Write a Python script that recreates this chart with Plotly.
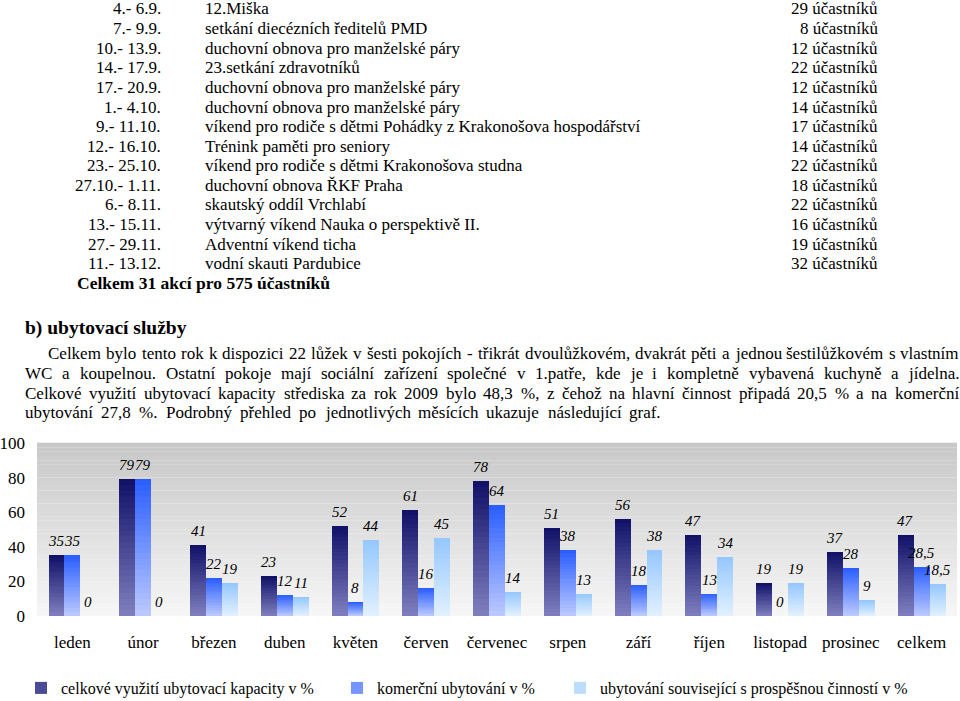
import unicodedata
import plotly.graph_objects as go

# ---------------- data ----------------
dates = ["4.- 6.9.", "7.- 9.9.", "10.- 13.9.", "14.- 17.9.", "17.- 20.9.", "1.- 4.10.",
         "9.- 11.10.", "12.- 16.10.", "23.- 25.10.", "27.10.- 1.11.", "6.- 8.11.",
         "13.- 15.11.", "27.- 29.11.", "11.- 13.12."]
events = ["12.Miška", "setkání diecézních ředitelů PMD", "duchovní obnova pro manželské páry",
          "23.setkání zdravotníků", "duchovní obnova pro manželské páry",
          "duchovní obnova pro manželské páry",
          "víkend pro rodiče s dětmi Pohádky z Krakonošova hospodářství",
          "Trénink paměti pro seniory", "víkend pro rodiče s dětmi Krakonošova studna",
          "duchovní obnova ŘKF Praha", "skautský oddíl Vrchlabí",
          "výtvarný víkend Nauka o perspektivě II.", "Adventní víkend ticha",
          "vodní skauti Pardubice"]
participants = [29, 8, 12, 22, 12, 14, 17, 14, 22, 18, 22, 16, 19, 32]
total_line = "Celkem 31 akcí pro 575 účastníků"

heading = "b) ubytovací služby"
paragraph_lines = [
    "Celkem bylo tento rok k dispozici 22 lůžek v šesti pokojích - třikrát dvoulůžkovém, dvakrát pěti a jednou šestilůžkovém s vlastním",
    "WC a koupelnou. Ostatní pokoje mají sociální zařízení společné v 1.patře, kde je i kompletně vybavená kuchyně a jídelna.",
    "Celkové využití ubytovací kapacity střediska za rok 2009 bylo 48,3 %, z čehož na hlavní činnost připadá 20,5 % a  na komerční",
    "ubytování 27,8 %. Podrobný přehled po jednotlivých měsících ukazuje následující graf.",
]

months = ["leden", "únor", "březen", "duben", "květen", "červen", "červenec", "srpen",
          "září", "říjen", "listopad", "prosinec", "celkem"]
celkove = [35, 79, 41, 23, 52, 61, 78, 51, 56, 47, 19, 37, 47]
komercni = [35, 79, 22, 12, 8, 16, 64, 38, 18, 13, 0, 28, 28.5]
prospesna = [0, 0, 19, 11, 44, 45, 14, 13, 38, 34, 19, 9, 18.5]
series_names = ["celkové využití ubytovací kapacity v %", "komerční ubytování v %",
                "ubytování související s prospěšnou činností v %"]
y_ticks = [0, 20, 40, 60, 80, 100]

# ---------------- styling ----------------
FONT = "Liberation Serif"
W, H = 960, 701
ML, MR, MT, MB = 37, 3, 443, 85
PW, PH = W - ML - MR, H - MT - MB


def px2x(px):
    return (px - ML) / PW


def py2y(py):
    return (H - MB - py) / PH


def lerp(c1, c2, t):
    return "rgb(%d,%d,%d)" % tuple(round(a + (b - a) * t) for a, b in zip(c1, c2))


# approximate Times-compatible advance widths (1/1000 em) for justification
_TW = {" ": 250, "%": 833, ",": 250, "-": 333, ".": 250, "(": 333, ")": 333, ":": 278}
_TW.update({d: 500 for d in "0123456789"})
_TW.update(dict(zip("ABCDEFGHIJKLMNOPQRSTUVWXYZ",
                    [722, 667, 667, 722, 611, 556, 722, 722, 333, 389, 722, 611, 889,
                     722, 722, 556, 722, 667, 556, 611, 722, 722, 944, 722, 722, 611])))
_TW.update(dict(zip("abcdefghijklmnopqrstuvwxyz",
                    [444, 500, 444, 500, 444, 333, 500, 500, 278, 278, 500, 278, 778,
                     500, 500, 500, 500, 333, 389, 278, 500, 500, 722, 500, 500, 444])))


def text_width(s, size):
    tot = 0
    for ch in s:
        base = unicodedata.normalize("NFD", ch)[0]
        tot += _TW.get(base, 500)
    return tot * size / 1000.0


grad = [((18, 18, 105), (125, 125, 190)),
        ((45, 95, 255), (185, 200, 255)),
        ((150, 200, 255), (225, 240, 255))]

fig = go.Figure()
NSEG = 24
BW = 0.225
offsets = [-1.5 * BW, -0.5 * BW, 0.5 * BW]
xs = list(range(len(months)))
all_series = [celkove, komercni, prospesna]

for j, vals in enumerate(all_series):
    top, bot = grad[j]
    for k in range(NSEG):
        frac = (NSEG - k) / NSEG
        show = (k == NSEG // 2)
        fig.add_trace(go.Bar(
            x=xs, y=[v * frac for v in vals],
            offset=offsets[j], width=BW,
            marker=dict(color=lerp(top, bot, k / (NSEG - 1)), line=dict(width=0)),
            name=series_names[j], showlegend=show,
            legend=["legend", "legend2", "legend3"][j],
            hoverinfo="skip",
        ))

annotations = []
# value labels
for j, vals in enumerate(all_series):
    for i, v in enumerate(vals):
        txt = (str(int(v)) if float(v).is_integer() else str(v).replace(".", ","))
        annotations.append(dict(
            x=i + offsets[j] + BW / 2, y=v, xref="x", yref="y", text=txt,
            showarrow=False, yanchor="bottom", xanchor="center", yshift=4,
            font=dict(family=FONT, size=15, color="black", style="italic"),
        ))

# top listing
for k in range(len(dates)):
    yc = 9 + 19.6 * k
    annotations.append(dict(x=px2x(163), y=py2y(yc), xref="paper", yref="paper",
                            text=dates[k], showarrow=False, xanchor="right", yanchor="middle",
                            font=dict(family=FONT, size=17, color="black")))
    annotations.append(dict(x=px2x(203), y=py2y(yc), xref="paper", yref="paper",
                            text=events[k], showarrow=False, xanchor="left", yanchor="middle",
                            font=dict(family=FONT, size=17, color="black")))
    annotations.append(dict(x=px2x(880), y=py2y(yc), xref="paper", yref="paper",
                            text="%d účastníků" % participants[k], showarrow=False,
                            xanchor="right", yanchor="middle",
                            font=dict(family=FONT, size=17, color="black")))
annotations.append(dict(x=px2x(75), y=py2y(283), xref="paper", yref="paper",
                        text="<b>%s</b>" % total_line, showarrow=False, xanchor="left",
                        yanchor="middle", font=dict(family=FONT, size=17.5, color="black")))
annotations.append(dict(x=px2x(23), y=py2y(328), xref="paper", yref="paper",
                        text="<b>%s</b>" % heading, showarrow=False, xanchor="left",
                        yanchor="middle", font=dict(family=FONT, size=19.5, color="black")))

# justified paragraph (word by word)
PSIZE = 17
para_x0 = [47, 24, 24, 24]
para_x1 = [958, 958, 958, 660]
para_y = [353, 373, 393, 412]
for line, x0, x1, ly in zip(paragraph_lines, para_x0, para_x1, para_y):
    words = line.split()
    widths = [text_width(w, PSIZE) for w in words]
    gap = (x1 - x0 - sum(widths)) / max(len(words) - 1, 1)
    cx = x0
    for w, wd in zip(words, widths):
        annotations.append(dict(x=px2x(cx - 1), y=py2y(ly), xref="paper", yref="paper",
                                text=w, showarrow=False, xanchor="left", yanchor="middle",
                                font=dict(family=FONT, size=PSIZE, color="black")))
        cx += wd + gap

# background gradient bands inside the plot area
shapes = []
NB = 40
for b in range(NB):
    t = b / (NB - 1)
    shapes.append(dict(type="rect", xref="paper", yref="paper",
                       x0=0, x1=1, y0=1 - (b + 1) / NB, y1=1 - b / NB + 0.001,
                       fillcolor=lerp((200, 200, 200), (246, 246, 246), t),
                       line=dict(width=0), layer="below"))

legend_common = dict(orientation="h", xref="container", yref="container",
                     xanchor="left", yanchor="middle", y=1 - 688 / H,
                     bgcolor="rgba(0,0,0,0)", itemwidth=30,
                     font=dict(family=FONT, size=16, color="black"))

fig.update_layout(
    width=W, height=H,
    margin=dict(l=ML, r=MR, t=MT, b=MB, autoexpand=False),
    paper_bgcolor="white", plot_bgcolor="rgba(0,0,0,0)",
    barmode="overlay", bargap=0,
    showlegend=True,
    legend=dict(x=21 / W, **legend_common),
    legend2=dict(x=337 / W, **legend_common),
    legend3=dict(x=560 / W, **legend_common),
    xaxis=dict(range=[-0.5, len(months) - 0.5], tickvals=xs, ticktext=months,
               showgrid=False, zeroline=False, showline=False, ticks="",
               ticklabelstandoff=14,
               tickfont=dict(family=FONT, size=17, color="black")),
    yaxis=dict(range=[0, 100], tickvals=y_ticks, showgrid=False, zeroline=False,
               showline=False, ticks="", ticklabelstandoff=11,
               tickfont=dict(family=FONT, size=17, color="black")),
    annotations=annotations, shapes=shapes,
)

fig.write_html("out.html", config={"displayModeBar": False},
               post_script="document.body.style.margin='0';")
